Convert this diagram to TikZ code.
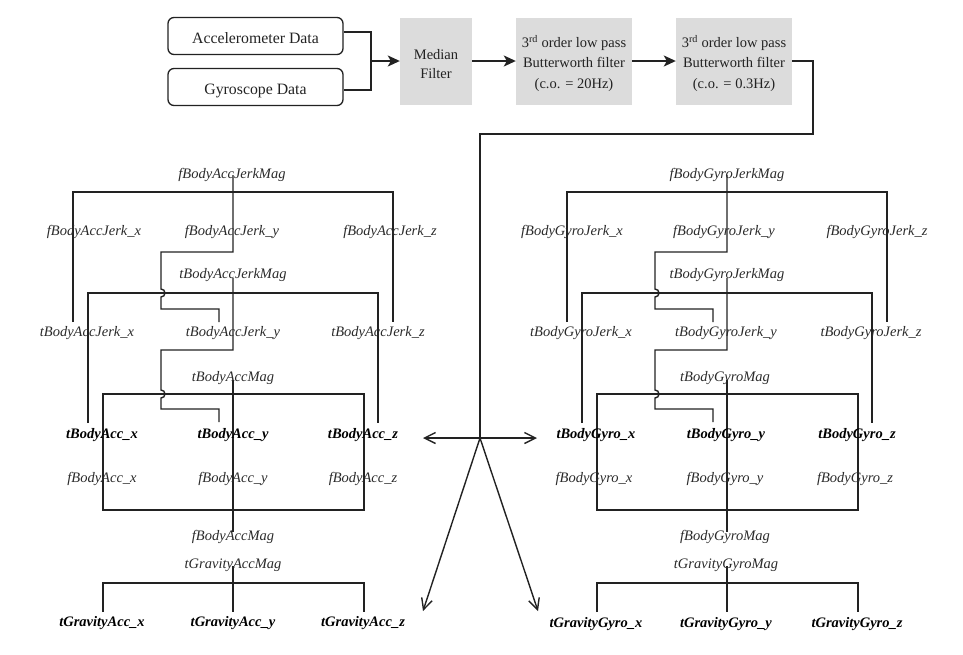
\documentclass[tikz,border=0pt]{standalone}
\usepackage{fontspec}
\setmainfont{Liberation Serif}
\usetikzlibrary{arrows.meta,calc}
\definecolor{boxgray}{HTML}{DCDCDC}
\definecolor{ln}{HTML}{222222}
\definecolor{lbl}{HTML}{2A2A2A}
\tikzset{
  lab/.style={font=\fontsize{14.5}{16}\selectfont\itshape, text=lbl, inner sep=0pt, yshift=-2pt},
  blab/.style={font=\fontsize{14.5}{16}\selectfont\bfseries\itshape, text=black, inner sep=0pt, yshift=-2pt},
  tree/.style={draw=ln, line width=1.4pt},
  inbox/.style={draw=ln, line width=1.3pt, rounded corners=6pt, minimum width=175pt,
    minimum height=37pt, font=\fontsize{15.8}{18}\selectfont, inner sep=0pt, text=ln,
    text height=15.5pt, text depth=0.6pt},
  filt/.style={fill=boxgray, minimum height=87pt, align=center,
    font=\fontsize{14.5}{20.5}\selectfont, inner sep=0pt, text=ln},
  flow/.style={draw=ln, line width=1.8pt},
  farrow/.style={flow, -{Stealth[length=12pt,width=11pt,inset=3pt]}},
  barb/.style={draw=ln, line width=1.4pt, -{Straight Barb[length=11pt,width=11pt]}},
}
\newcommand\mylab[4]{\node[lab] (#1) at (#2,#3) {#4};}
\newcommand\mybl[4]{\node[blab] (#1) at (#2,#3) {#4};}
\newcommand\treelines{%
  \draw[tree] (233,175) -- (233,252) -- (161,252) -- (161,289)
     arc[start angle=90,end angle=-90,radius=4pt] -- (161,309) -- (219,309) -- (219,322);
  \draw[tree] (73,322) -- (73,192) -- (393,192) -- (393,322);
  \draw[tree] (233,278) -- (233,350) -- (161,350) -- (161,390)
     arc[start angle=90,end angle=-90,radius=4pt] -- (161,409) -- (219,409) -- (219,422);
  \draw[tree] (88,423) -- (88,293) -- (378,293) -- (378,423);
  \draw[tree] (233,380) -- (233,532);
  \draw[tree] (103,394) -- (364,394) -- (364,510) -- (103,510) -- cycle;
  \draw[tree] (233,566) -- (233,612);
  \draw[tree] (103,612) -- (103,583) -- (364,583) -- (364,612);
}
\begin{document}
\begin{tikzpicture}[x=1pt,y=-1pt]
\useasboundingbox (0,0) rectangle (963,654);
% ---------- top pipeline ----------
\node[inbox] (acc) at (255.5,36) {Accelerometer Data};
\node[inbox] (gyr) at (255.5,87) {Gyroscope Data};
\node[filt, minimum width=72pt, font=\fontsize{14.5}{18.5}\selectfont] (med) at (436,61) {\rule{0pt}{16.5pt}Median\\Filter};
\node[filt, minimum width=116pt] (bw1) at (574,61) {\rule{0pt}{17pt}3\textsuperscript{rd} order low pass\\Butterworth filter\\(c.o. = 20Hz)};
\node[filt, minimum width=116pt] (bw2) at (734,61) {\rule{0pt}{17pt}3\textsuperscript{rd} order low pass\\Butterworth filter\\(c.o. = 0.3Hz)};
\coordinate (m) at (371,61);
\coordinate (J) at (480,438);
\draw[flow] ($(acc.east)+(0,-4)$) -| (m) |- ($(gyr.east)+(0,3)$);
\draw[farrow] (m) -- (med.west);
\draw[farrow] (med) -- (bw1);
\draw[farrow] (bw1) -- (bw2);
\draw[flow] (bw2.east) -- (813,61) |- (480,134) -- (J);
\coordinate (aL) at (423,438);
\coordinate (aR) at (537,438);
\coordinate (aDL) at (423,611);
\coordinate (aDR) at (538,611);
\draw[barb] (J) -- (aL);
\draw[barb] (J) -- (aR);
\draw[barb] (J) -- (aDL);
\draw[barb] (J) -- (aDR);
% ---------- tree lines ----------
\treelines
\begin{scope}[xshift=494pt]
\treelines
\end{scope}
% ---------- left labels ----------
\mylab{fjm}{232}{173}{fBodyAccJerkMag}
\mylab{fjx}{94}{230}{fBodyAccJerk\_x}
\mylab{fjy}{232}{230}{fBodyAccJerk\_y}
\mylab{fjz}{390}{230}{fBodyAccJerk\_z}
\mylab{tjm}{233}{273}{tBodyAccJerkMag}
\mylab{tjx}{87}{331}{tBodyAccJerk\_x}
\mylab{tjy}{233}{331}{tBodyAccJerk\_y}
\mylab{tjz}{378}{331}{tBodyAccJerk\_z}
\mylab{tam}{233}{376}{tBodyAccMag}
\mybl{tax}{102}{433}{tBodyAcc\_x}
\mybl{tay}{233}{433}{tBodyAcc\_y}
\mybl{taz}{363}{433}{tBodyAcc\_z}
\mylab{fax}{102}{477}{fBodyAcc\_x}
\mylab{fay}{233}{477}{fBodyAcc\_y}
\mylab{faz}{363}{477}{fBodyAcc\_z}
\mylab{fam}{233}{535}{fBodyAccMag}
\mylab{tgm}{233}{563}{tGravityAccMag}
\mybl{tgx}{102}{621}{tGravityAcc\_x}
\mybl{tgy}{233}{621}{tGravityAcc\_y}
\mybl{tgz}{363}{621}{tGravityAcc\_z}
% ---------- right labels ----------
\mylab{gfjm}{727}{173}{fBodyGyroJerkMag}
\mylab{gfjx}{572}{230}{fBodyGyroJerk\_x}
\mylab{gfjy}{724}{230}{fBodyGyroJerk\_y}
\mylab{gfjz}{877}{230}{fBodyGyroJerk\_z}
\mylab{gtjm}{727}{273}{tBodyGyroJerkMag}
\mylab{gtjx}{581}{331}{tBodyGyroJerk\_x}
\mylab{gtjy}{726}{331}{tBodyGyroJerk\_y}
\mylab{gtjz}{871}{331}{tBodyGyroJerk\_z}
\mylab{gtm}{725}{376}{tBodyGyroMag}
\mybl{gtx}{596}{433}{tBodyGyro\_x}
\mybl{gty}{726}{433}{tBodyGyro\_y}
\mybl{gtz}{857}{433}{tBodyGyro\_z}
\mylab{gfx}{594}{477}{fBodyGyro\_x}
\mylab{gfy}{725}{477}{fBodyGyro\_y}
\mylab{gfz}{855}{477}{fBodyGyro\_z}
\mylab{gfm}{725}{535}{fBodyGyroMag}
\mylab{ggm}{726}{563}{tGravityGyroMag}
\mybl{ggx}{596}{622}{tGravityGyro\_x}
\mybl{ggy}{726}{622}{tGravityGyro\_y}
\mybl{ggz}{857}{622}{tGravityGyro\_z}
\end{tikzpicture}
\end{document}
